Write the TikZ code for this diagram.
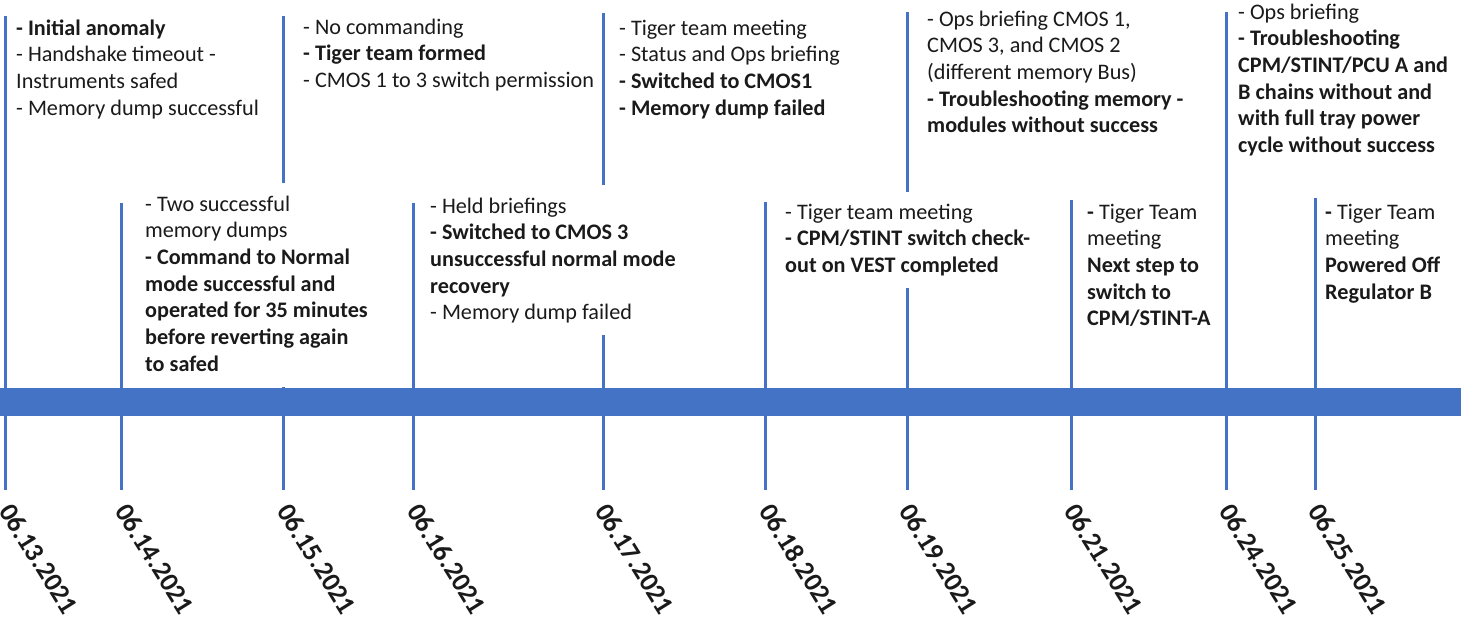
\documentclass[tikz,border=0pt]{standalone}
\usepackage{fontspec}
\setmainfont{Carlito}
\definecolor{tl}{HTML}{4472C4}
\definecolor{tx}{HTML}{1A1A1A}
\tikzset{
  tickline/.style={line width=3pt, draw=tl},
  note/.style={anchor=north west, inner sep=0pt, align=left, text=tx,
               font=\fontsize{22.2}{26.7}\selectfont},
  datelbl/.style={anchor=west, rotate=-58, inner sep=0pt, text=tx,
                  font=\bfseries\fontsize{27}{32}\selectfont},
}
\newcommand{\fl}{\strut}
\begin{document}
\begin{tikzpicture}[x=1pt,y=-1pt]
\useasboundingbox (0,0) rectangle (1461,620);
% tick lines
\coordinate (t13) at (5,16);    \coordinate (b13) at (5,490);
\coordinate (t14) at (121,203); \coordinate (b14) at (121,490);
\coordinate (t15) at (283,16);  \coordinate (g15a) at (283,183);
\coordinate (g15b) at (283,387);\coordinate (b15) at (283,490);
\coordinate (t16) at (413,203); \coordinate (b16) at (413,490);
\coordinate (t17) at (603,13);  \coordinate (g17a) at (603,185);
\coordinate (g17b) at (603,335);\coordinate (b17) at (603,490);
\coordinate (t18) at (765,202); \coordinate (b18) at (765,490);
\coordinate (t19) at (907,12);  \coordinate (g19a) at (907,192);
\coordinate (g19b) at (907,288);\coordinate (b19) at (907,490);
\coordinate (t21) at (1071,200);\coordinate (b21) at (1071,490);
\coordinate (t24) at (1226,12); \coordinate (b24) at (1226,490);
\coordinate (t25) at (1315,198);\coordinate (b25) at (1315,490);
\draw[tickline] (t13) -- (b13);
\draw[tickline] (t14) -- (b14);
\draw[tickline] (t15) -- (g15a);
\draw[tickline] (g15b) -- (b15);
\draw[tickline] (t16) -- (b16);
\draw[tickline] (t17) -- (g17a);
\draw[tickline] (g17b) -- (b17);
\draw[tickline] (t18) -- (b18);
\draw[tickline] (t19) -- (g19a);
\draw[tickline] (g19b) -- (b19);
\draw[tickline] (t21) -- (b21);
\draw[tickline] (t24) -- (b24);
\draw[tickline] (t25) -- (b25);
% timeline bar
\fill[tl] (0,388) rectangle (1461,416);
% upper notes (baseline - 18.7)
\node[note] (n13) at (16,16.3) {\fl\textbf{- Initial anomaly}\\- Handshake timeout -\\Instruments safed\\- Memory dump successful};
\node[note] (n15) at (303,15.3) {\fl- No commanding\\\textbf{- Tiger team formed}\\- CMOS 1 to 3 switch permission};
\node[note] (n17) at (619,16.3) {\fl- Tiger team meeting\\- Status and Ops briefing\\\textbf{- Switched to CMOS1}\\\textbf{- Memory dump failed}};
\node[note] (n19) at (927,7.3) {\fl- Ops briefing CMOS 1,\\CMOS 3, and CMOS 2\\(different memory Bus)\\\textbf{- Troubleshooting memory -}\\\textbf{modules without success}};
\node[note] (n24) at (1238,0.3) {\fl- Ops briefing\\\textbf{- Troubleshooting}\\\textbf{CPM/STINT/PCU A and}\\\textbf{B chains without and}\\\textbf{with full tray power}\\\textbf{cycle without success}};
% lower notes
\node[note] (n14) at (145,192.3) {\fl- Two successful\\memory dumps\\\textbf{- Command to Normal}\\\textbf{mode successful and}\\\textbf{operated for 35 minutes}\\\textbf{before reverting again}\\\textbf{to safed}};
\node[note] (n16) at (430,194.3) {\fl- Held briefings\\\textbf{- Switched to CMOS 3}\\\textbf{unsuccessful normal mode}\\\textbf{recovery}\\- Memory dump failed};
\node[note] (n18) at (785,200.3) {\fl- Tiger team meeting\\\textbf{- CPM/STINT switch check-}\\\textbf{out on VEST completed}};
\node[note] (n21) at (1087,200.3) {\fl\textbf{-} Tiger Team\\meeting\\\textbf{Next step to}\\\textbf{switch to}\\\textbf{CPM/STINT-A}};
\node[note] (n25) at (1325,200.3) {\fl\textbf{-} Tiger Team\\meeting\\\textbf{Powered Off}\\\textbf{Regulator B}};
% date labels
\node[datelbl] (d13) at (6,506)    {06.13.2021};
\node[datelbl] (d14) at (122,506)  {06.14.2021};
\node[datelbl] (d15) at (284,506)  {06.15.2021};
\node[datelbl] (d16) at (414,506)  {06.16.2021};
\node[datelbl] (d17) at (602,506)  {06.17.2021};
\node[datelbl] (d18) at (766,506)  {06.18.2021};
\node[datelbl] (d19) at (906,506)  {06.19.2021};
\node[datelbl] (d21) at (1071,506) {06.21.2021};
\node[datelbl] (d24) at (1226,506) {06.24.2021};
\node[datelbl] (d25) at (1315,506) {06.25.2021};
\end{tikzpicture}
\end{document}
